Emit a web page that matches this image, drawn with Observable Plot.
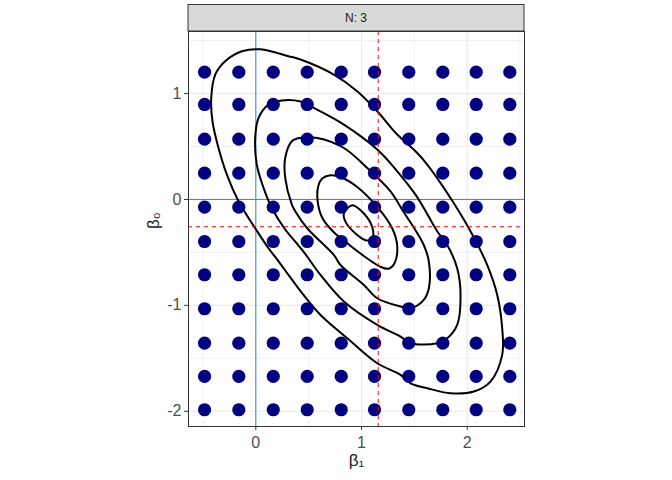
<!DOCTYPE html>
<html><head><meta charset="utf-8">
<script src="https://cdn.jsdelivr.net/npm/d3@7"></script>
<script src="https://cdn.jsdelivr.net/npm/@observablehq/plot@0.6"></script>
<style>body{margin:0;background:#fff} #chart{width:672px;height:480px}</style>
</head><body><div id="chart"></div>
<script>
// grid of candidate parameter values (beta1, beta0)
const gridBeta1 = [-0.485, -0.161, 0.165, 0.486, 0.808, 1.123, 1.447, 1.769, 2.085, 2.403];
const gridBeta0 = [-1.986, -1.671, -1.357, -1.032, -0.711, -0.397, -0.073, 0.248, 0.569, 0.897, 1.202];

// estimate (red dashed lines)
const estBeta1 = [1.158];
const estBeta0 = [-0.258];

// reference lines (blue)
const refBeta1 = [0];
const refBeta0 = [0];

// tick labels and grid
const xTicks = [0, 1, 2];
const yTicks = [-2, -1, 0, 1];
const xMinor = [-0.5, 0.5, 1.5, 2.5];
const yMinor = [-1.5, -0.5, 0.5, 1.5];

const stripLabel = "N: 3";
const xTitle = "β₁";
const yTitle = "β₀";

// traced likelihood contours, outermost (A) to innermost (E): [beta1, beta0]
const contourA = [[-0.132,1.399],[0.044,1.418],[0.309,1.353],[0.423,1.321],[0.738,1.179],[0.959,1.022],[1.149,0.833],[1.338,0.613],[1.511,0.455],[1.622,0.330],[1.842,0.014],[2.031,-0.300],[2.189,-0.618],[2.284,-0.902],[2.331,-1.216],[2.331,-1.468],[2.220,-1.720],[2.062,-1.814],[1.842,-1.830],[1.622,-1.783],[1.464,-1.736],[1.369,-1.657],[1.149,-1.547],[0.865,-1.311],[0.612,-1.091],[0.451,-0.902],[0.309,-0.713],[0.215,-0.584],[0.120,-0.461],[-0.006,-0.272],[-0.069,-0.175],[-0.164,-0.017],[-0.274,0.235],[-0.353,0.486],[-0.410,0.738],[-0.422,0.958],[-0.384,1.179],[-0.290,1.305]];
const contourB = [[0.120,0.896],[0.246,0.935],[0.423,0.925],[0.549,0.864],[0.833,0.707],[1.149,0.471],[1.338,0.266],[1.511,0.046],[1.589,-0.080],[1.716,-0.300],[1.811,-0.430],[1.905,-0.650],[1.937,-0.902],[1.905,-1.185],[1.811,-1.311],[1.716,-1.358],[1.464,-1.358],[1.369,-1.295],[1.149,-1.185],[0.833,-0.964],[0.612,-0.713],[0.451,-0.492],[0.373,-0.398],[0.278,-0.284],[0.151,-0.080],[0.073,0.109],[0.009,0.330],[-0.006,0.581],[0.026,0.770]];
const contourC = [[0.341,0.550],[0.423,0.581],[0.581,0.581],[0.833,0.486],[1.054,0.297],[1.274,0.077],[1.400,-0.121],[1.511,-0.291],[1.589,-0.430],[1.637,-0.586],[1.637,-0.839],[1.589,-0.949],[1.464,-1.027],[1.369,-1.011],[1.149,-0.933],[1.022,-0.807],[0.801,-0.619],[0.738,-0.524],[0.486,-0.272],[0.373,-0.111],[0.341,-0.048],[0.278,0.203],[0.278,0.392]];
const contourD = [[0.631,0.200],[0.707,0.229],[0.801,0.212],[0.959,0.118],[1.149,-0.071],[1.290,-0.272],[1.338,-0.442],[1.312,-0.602],[1.255,-0.654],[1.180,-0.636],[1.009,-0.524],[0.877,-0.423],[0.738,-0.310],[0.631,-0.178],[0.584,-0.008],[0.593,0.134]];
const contourE = [[0.833,-0.133],[0.912,-0.055],[1.022,-0.133],[1.101,-0.260],[1.101,-0.369],[1.038,-0.385],[0.943,-0.322],[0.849,-0.212]];

const points = gridBeta1.flatMap(x => gridBeta0.map(y => ({x, y})));
const contours = [["A", contourA], ["B", contourB], ["C", contourC], ["D", contourD], ["E", contourE]]
  .flatMap(([id, pts]) => pts.map(([x, y]) => ({id, x, y})));

const W = 672, H = 480, mL = 188, mR = 148, mT = 31, mB = 54;
const blue = "#3388dd";
const font = "'Liberation Sans', Arial, sans-serif";

const chart = Plot.plot({
  width: W, height: H,
  marginLeft: mL, marginRight: mR, marginTop: mT, marginBottom: mB,
  style: {fontFamily: font, background: "#fff"},
  x: {domain: [-0.637, 2.542]},
  y: {domain: [-2.144, 1.586]},
  marks: [
    Plot.ruleX(xMinor, {stroke: "#EBEBEB", strokeWidth: 0.7}),
    Plot.ruleY(yMinor, {stroke: "#EBEBEB", strokeWidth: 0.7}),
    Plot.ruleX(xTicks, {stroke: "#EBEBEB", strokeWidth: 1.2}),
    Plot.ruleY(yTicks, {stroke: "#EBEBEB", strokeWidth: 1.2}),
    Plot.ruleX(refBeta1, {stroke: blue, strokeWidth: 1}),
    Plot.ruleY(refBeta0, {stroke: blue, strokeWidth: 1}),
    Plot.line(contours, {x: "x", y: "y", z: "id", curve: "catmull-rom-closed", stroke: "black", strokeWidth: 2}),
    Plot.dot(points, {x: "x", y: "y", r: 6.6, fill: "#000080"}),
    Plot.ruleX(estBeta1, {stroke: "red", strokeWidth: 1, strokeDasharray: "4,4"}),
    Plot.ruleY(estBeta0, {stroke: "red", strokeWidth: 1, strokeDasharray: "4,4"}),
    Plot.frame({stroke: "#333333", strokeWidth: 1}),
    Plot.axisX(xTicks, {tickSize: 4, tickPadding: 6, fontSize: 16, fill: "#4D4D4D", stroke: "#333333", label: null, tickFormat: d => String(d)}),
    Plot.axisY(yTicks, {tickSize: 4, tickPadding: 3, fontSize: 16, fill: "#4D4D4D", stroke: "#333333", label: null, tickFormat: d => String(d)}),
    Plot.text([xTitle], {text: d => d, frameAnchor: "bottom", dy: 39, fontSize: 17, fill: "#1a1a1a"}),
    Plot.text([yTitle], {text: d => d, frameAnchor: "left", rotate: -90, dx: -35, fontSize: 17, fill: "#1a1a1a"})
  ]
});

// facet strip above the panel
const svg = d3.select(chart);
const strip = svg.append("g");
strip.append("rect")
  .attr("x", mL).attr("y", 4.5).attr("width", W - mL - mR).attr("height", mT - 4.5)
  .attr("fill", "#D9D9D9").attr("stroke", "#333333").attr("stroke-width", 1);
strip.append("text")
  .attr("x", mL + (W - mL - mR) / 2).attr("y", 4.5 + (mT - 4.5) / 2)
  .attr("text-anchor", "middle").attr("dominant-baseline", "central")
  .attr("font-family", font).attr("font-size", 12).attr("fill", "#1A1A1A")
  .text(stripLabel);

document.getElementById("chart").appendChild(chart);
</script>
</body></html>
